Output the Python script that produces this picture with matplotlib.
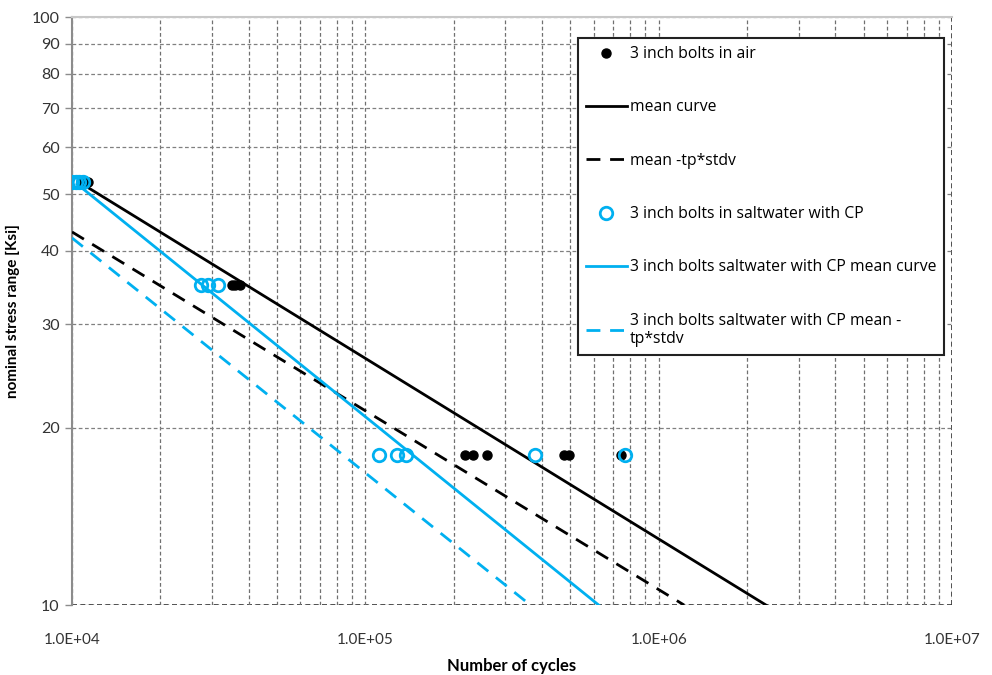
import matplotlib
matplotlib.use("Agg")
import matplotlib.pyplot as plt
from matplotlib.ticker import FixedLocator, NullFormatter, FixedFormatter, LogLocator
import numpy as np

plt.rcParams['font.family'] = ['Lato', 'DejaVu Sans']

# test data, stress range [ksi] vs cycles
air_n = [1.07e4, 1.10e4, 1.13e4, 3.5e4, 3.6e4, 3.75e4,
         2.18e5, 2.32e5, 2.59e5, 4.74e5, 4.93e5, 7.41e5]
air_s = [52.5, 52.5, 52.5, 35, 35, 35, 18, 18, 18, 18, 18, 18]
salt_n = [1.0e4, 1.03e4, 1.06e4, 1.09e4, 2.75e4, 2.9e4, 3.15e4,
          1.11e5, 1.28e5, 1.38e5, 3.78e5, 7.65e5]
salt_s = [52.5, 52.5, 52.5, 52.5, 35, 35, 35, 18, 18, 18, 18, 18]

# fitted curves (straight lines in log-log, end points)
mean_n = [1.05e4, 2.32e6]
mean_s = [52.5, 10]
mean_low_n = [1.0e4, 1.22e6]
mean_low_s = [43.1, 10]
salt_mean_n = [1.04e4, 6.24e5]
salt_mean_s = [52.0, 10]
salt_low_n = [1.0e4, 3.65e5]
salt_low_s = [42.1, 10]

labels = ["3 inch bolts in air", "mean curve", "mean -tp*stdv",
          "3 inch bolts in saltwater with CP",
          "3 inch bolts saltwater with CP mean curve",
          "3 inch bolts saltwater with CP mean -\ntp*stdv"]

blue = '#00B0F0'

fig = plt.figure(figsize=(9.92, 6.75), dpi=100)
ax = fig.add_axes([0.0726, 0.1037, 0.8871, 0.8711])

ax.set_xscale('log')
ax.set_yscale('log')
ax.set_xlim(1e4, 1e7)
ax.set_ylim(10, 100)

# grid
ax.xaxis.set_minor_locator(LogLocator(base=10, subs=np.arange(2, 10)))
ax.grid(True, which='both', axis='x', color='#707070', linestyle=(0, (3, 2)), linewidth=0.9)
yt = [10, 20, 30, 40, 50, 60, 70, 80, 90, 100]
ax.yaxis.set_major_locator(FixedLocator(yt))
ax.yaxis.set_minor_locator(FixedLocator([]))
ax.yaxis.set_major_formatter(FixedFormatter([str(v) for v in yt]))
ax.yaxis.set_minor_formatter(NullFormatter())
ax.grid(True, which='major', axis='y', color='#808080', linestyle=(0, (3, 2)), linewidth=0.9)
ax.axhline(10, color='#303030', linestyle=(0, (3, 2)), linewidth=1.2, zorder=1)
ax.axvline(1e7, color='#303030', linestyle=(0, (3, 2)), linewidth=1.2, zorder=1)

ax.spines['right'].set_visible(False)
ax.spines['bottom'].set_visible(False)
ax.spines['left'].set_color('#8c8c8c')
ax.spines['left'].set_linewidth(1.5)
ax.spines['top'].set_color('#c8c8c8')
ax.spines['top'].set_linewidth(1.5)

ax.set_xticks([1e4, 1e5, 1e6, 1e7])
ax.set_xticklabels(['1.0E+04', '1.0E+05', '1.0E+06', '1.0E+07'])
ax.xaxis.set_minor_formatter(NullFormatter())
ax.tick_params(axis='x', which='both', length=0, pad=20, labelsize=11, colors='#333333')
ax.tick_params(axis='y', which='major', length=5, width=1, color='#8c8c8c', labelsize=11.5,
               labelcolor='#333333', pad=4)

ax.plot(air_n, air_s, 'o', color='black', markersize=6.5, zorder=4, label=labels[0])
ax.plot(mean_n, mean_s, '-', color='black', linewidth=2, zorder=3, label=labels[1])
ax.plot(mean_low_n, mean_low_s, color='black', linewidth=2, dashes=(5, 3.5), zorder=3, label=labels[2])
ax.plot(salt_n, salt_s, 'o', color=blue, markerfacecolor='none', markeredgewidth=2,
        markersize=9, zorder=4, label=labels[3])
ax.plot(salt_mean_n, salt_mean_s, '-', color=blue, linewidth=2, zorder=3, label=labels[4])
ax.plot(salt_low_n, salt_low_s, color=blue, linewidth=2, dashes=(5, 3.5), zorder=3, label=labels[5])

ax.set_xlabel('Number of cycles', fontsize=12, fontweight='bold', labelpad=8)
ax.set_ylabel('nominal stress range [Ksi]', fontsize=11, fontweight='bold', labelpad=8)

leg = ax.legend(loc='upper left', bbox_to_anchor=(0.575, 0.964), borderaxespad=0,
                prop={'family': ['Open Sans', 'DejaVu Sans'], 'size': 11.3},
                labelspacing=2.38, handlelength=2.6, handletextpad=0.2,
                borderpad=0.5, fancybox=False, framealpha=1, edgecolor='#222222')
leg.get_frame().set_linewidth(1.5)
leg.set_zorder(10)

fig.savefig('out.png', dpi=100)
